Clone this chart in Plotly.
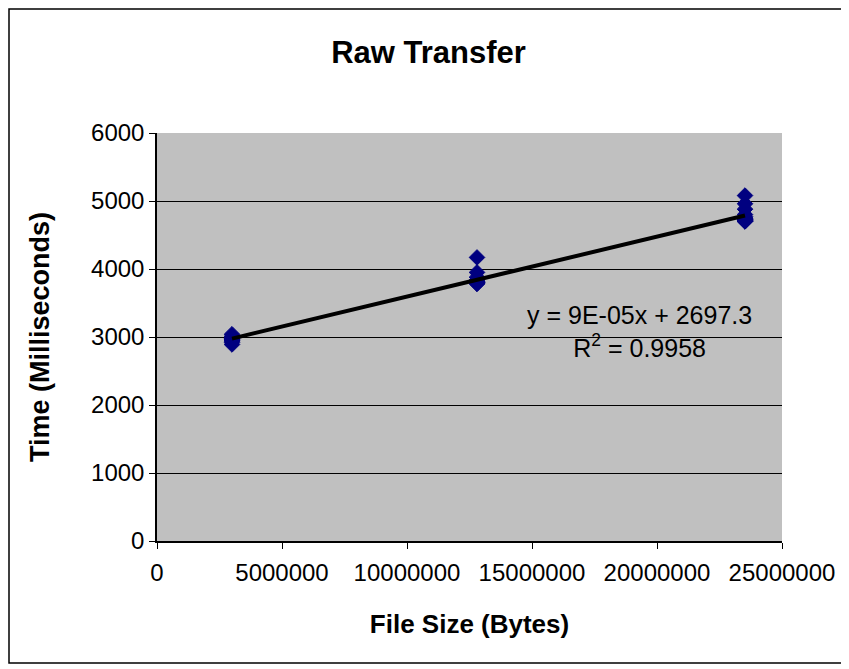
import numpy as np
import plotly.graph_objects as go

# file sizes (bytes) and measured transfer times (ms), one list per file
SIZES = [3000000, 12800000, 23520000]
TIMES_SMALL = [2890, 2920, 2940, 2950, 2960, 2970, 2980, 2990, 3010, 3040]
TIMES_MEDIUM = [3780, 3790, 3800, 3800, 3810, 3820, 3840, 3880, 3950, 4170]
TIMES_LARGE = [4700, 4700, 4705, 4710, 4715, 4720, 4725, 4730, 4740, 4750, 4770, 4800, 4880, 4960, 5080]

EQUATION = "y = 9E-05x + 2697.3"
R_SQUARED = "0.9958"

x_vals = []
y_vals = []
for size, times in zip(SIZES, [TIMES_SMALL, TIMES_MEDIUM, TIMES_LARGE]):
    x_vals += [size] * len(times)
    y_vals += times

slope, intercept = np.polyfit(x_vals, y_vals, 1)
line_x = [min(x_vals), max(x_vals)]
line_y = [slope * v + intercept for v in line_x]

fig = go.Figure()
fig.add_scatter(
    x=x_vals, y=y_vals, mode="markers",
    marker=dict(symbol="diamond", size=12, color="#000080", line=dict(color="#000080", width=1)),
    showlegend=False,
)
fig.add_scatter(
    x=line_x, y=line_y, mode="lines",
    line=dict(color="black", width=4), showlegend=False,
)

fig.add_annotation(
    x=19300000, y=3080, xref="x", yref="y",
    text=f"{EQUATION}<br>R<sup>2</sup> = {R_SQUARED}",
    showarrow=False, align="center",
    font=dict(size=25, color="black"),
)

# outer chart border
fig.add_shape(
    type="rect", xref="paper", yref="paper",
    x0=-0.2368, x1=1.0976, y0=-0.299, y1=1.3039,
    line=dict(color="black", width=1.5),
)

fig.update_layout(
    width=841, height=661,
    margin=dict(l=149, r=67, t=125, b=128),
    paper_bgcolor="white",
    plot_bgcolor="#C0C0C0",
    font=dict(family="Liberation Sans, Arial, sans-serif", size=24, color="black"),
    title=dict(text="<b>Raw Transfer</b>", x=0.5, xanchor="center", y=0.933, yanchor="middle",
               font=dict(size=31)),
)
fig.update_xaxes(
    range=[0, 25000000], tickvals=[0, 5000000, 10000000, 15000000, 20000000, 25000000],
    ticktext=["0", "5000000", "10000000", "15000000", "20000000", "25000000"],
    showgrid=False, zeroline=False, showline=True, linecolor="black", linewidth=1.5,
    ticks="outside", ticklen=6, tickcolor="black", ticklabelstandoff=3,
    title=dict(text="<b>File Size (Bytes)</b>", font=dict(size=26), standoff=30),
)
fig.update_yaxes(
    range=[0, 6000], dtick=1000, tickformat="d",
    showgrid=True, gridcolor="black", gridwidth=1, zeroline=False,
    showline=True, linecolor="black", linewidth=1.5,
    ticks="outside", ticklen=6, tickcolor="black",
    title=dict(text="<b>Time (Milliseconds)</b>", font=dict(size=27), standoff=34),
)

fig.write_html("out.html")
